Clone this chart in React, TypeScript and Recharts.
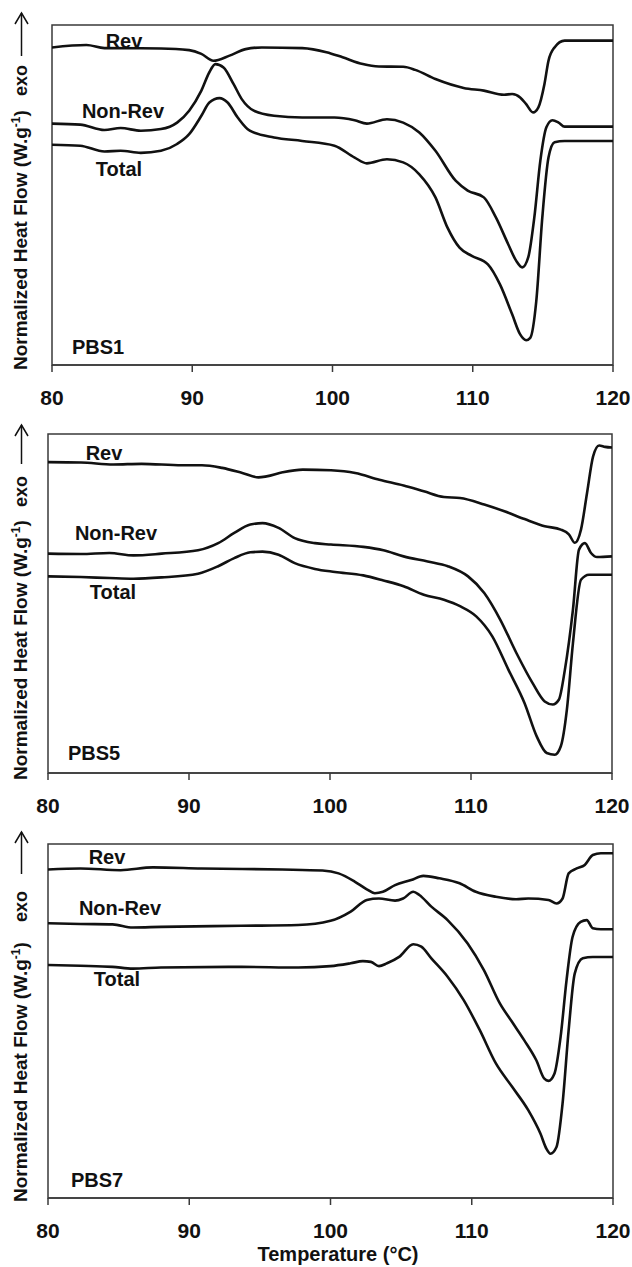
import React from 'react';
import { LineChart, Line, XAxis, YAxis, ReferenceArea } from 'recharts';

// temperature (°C) and normalized heat flow (arbitrary units, 0 = bottom of frame, 100 = top)
const TICKS = [80, 90, 100, 110, 120];

const pbs1RevT = [80, 82.45, 83.74, 87.77, 89.78, 90.65, 91.51, 92.66, 93.81, 94.96, 97.84, 99.57, 100.72, 102.16, 103.31, 105.04, 105.9, 107.34, 109.35, 110.79, 112.23, 112.81, 113.38, 113.81, 114.3, 114.68, 115.11, 115.4, 115.83, 116.55, 120];
const pbs1RevV = [93.4, 94.1, 93.2, 93.1, 92.6, 91.5, 89.5, 91.0, 92.9, 93.4, 93.2, 92.0, 90.5, 88.5, 87.8, 87.7, 86.8, 84.1, 81.5, 80.7, 79.5, 79.7, 78.7, 76.7, 74.3, 75.8, 82.6, 89.5, 93.4, 95.4, 95.4];
const pbs1NonRevT = [80, 82.01, 83.74, 84.89, 86.33, 87.77, 88.92, 89.78, 90.65, 91.22, 91.65, 92.23, 92.95, 93.53, 94.39, 95.83, 97.84, 100.14, 101.58, 102.45, 103.88, 105.04, 106.19, 107.34, 108.78, 109.64, 110.79, 111.65, 112.52, 113.09, 113.53, 113.96, 114.39, 114.82, 115.25, 115.68, 116.12, 116.55, 120];
const pbs1NonRevV = [71.0, 70.7, 69.1, 69.7, 68.9, 69.4, 71.3, 74.8, 80.7, 86.1, 88.5, 87.5, 82.6, 78.2, 74.8, 73.3, 72.8, 72.8, 72.0, 71.0, 72.3, 71.3, 68.4, 63.0, 54.2, 51.3, 49.3, 43.4, 35.6, 30.7, 28.7, 31.7, 43.4, 60.1, 69.9, 72.0, 71.3, 70.1, 70.1];
const pbs1TotalT = [80, 82.01, 83.74, 84.89, 86.33, 87.77, 88.92, 89.78, 90.65, 91.22, 91.94, 92.52, 93.24, 94.1, 95.83, 97.84, 100.14, 101.58, 102.45, 103.88, 105.04, 106.19, 107.34, 108.2, 109.06, 109.93, 111.08, 111.94, 112.81, 113.38, 113.81, 114.1, 114.53, 114.96, 115.4, 115.83, 116.55, 120];
const pbs1TotalV = [64.8, 64.5, 62.8, 63.0, 62.4, 63.0, 65.0, 67.9, 73.3, 77.2, 78.5, 77.2, 72.8, 68.9, 66.9, 65.9, 64.5, 61.0, 59.3, 60.5, 59.6, 56.1, 49.3, 40.4, 34.5, 32.1, 29.6, 23.7, 14.9, 9.0, 7.3, 8.0, 18.8, 43.4, 61.0, 65.5, 65.9, 65.9];

const pbs5RevT = [80, 82.34, 84.63, 86.63, 89.49, 90.92, 92.35, 93.78, 94.93, 95.5, 96.64, 98.07, 100.07, 101.79, 103.5, 105.22, 106.65, 108.08, 109.22, 110.94, 112.37, 113.8, 115.23, 116.37, 116.94, 117.37, 117.8, 118.23, 118.66, 119.09, 119.51, 120];
const pbs5RevV = [91.7, 91.6, 91.0, 91.2, 90.8, 90.8, 90.0, 88.5, 87.2, 87.5, 88.7, 89.5, 89.3, 88.5, 86.5, 84.8, 83.1, 81.4, 81.1, 79.2, 77.2, 74.9, 72.8, 71.8, 70.4, 67.9, 71.8, 82.6, 93.4, 96.6, 96.2, 96.0];
const pbs5NonRevT = [80, 82.34, 84.35, 86.06, 88.06, 90.64, 92.07, 93.21, 94.35, 95.21, 96.35, 97.5, 98.93, 100.07, 102.36, 103.79, 105.22, 106.93, 108.36, 109.79, 110.94, 112.08, 113.22, 114.37, 115.23, 115.8, 116.23, 116.66, 117.23, 117.66, 118.08, 118.51, 118.94, 120];
const pbs5NonRevV = [64.7, 64.6, 64.9, 64.2, 64.7, 65.7, 67.8, 70.8, 73.3, 73.7, 72.3, 69.3, 67.8, 67.4, 66.7, 65.7, 63.9, 62.4, 61.0, 58.0, 53.1, 45.2, 35.4, 26.5, 21.1, 20.2, 21.6, 30.5, 48.2, 65.9, 67.8, 64.9, 63.7, 63.9];
const pbs5TotalT = [80, 82.34, 84.35, 86.06, 88.06, 90.64, 92.07, 93.21, 94.35, 95.21, 96.35, 97.5, 98.93, 100.36, 102.36, 103.79, 105.22, 106.65, 108.08, 109.22, 110.37, 111.51, 112.65, 113.8, 114.66, 115.37, 115.94, 116.37, 116.8, 117.23, 117.8, 118.37, 120];
const pbs5TotalV = [58.0, 57.8, 57.5, 57.3, 57.7, 58.8, 61.0, 63.4, 65.1, 65.3, 64.4, 61.9, 60.2, 59.3, 58.3, 56.8, 55.1, 52.6, 51.1, 49.2, 46.2, 40.3, 30.5, 20.6, 10.8, 5.9, 5.4, 7.9, 18.7, 38.3, 57.0, 58.5, 58.5];

const pbs7RevT = [80, 82.29, 85.14, 87.43, 90.86, 96.57, 99.43, 100.57, 101.71, 102.57, 103.14, 103.71, 104.57, 105.71, 106.57, 107.71, 109.14, 110.29, 111.71, 113.14, 114, 115.43, 116, 116.43, 116.86, 117.43, 118, 118.57, 119.14, 120];
const pbs7RevV = [92.8, 93.1, 92.6, 93.4, 93.1, 92.8, 92.5, 91.7, 89.4, 87.2, 86.1, 86.5, 88.4, 89.8, 91.0, 90.3, 88.9, 86.5, 85.1, 84.4, 84.6, 84.2, 83.2, 84.6, 91.7, 93.1, 94.1, 96.9, 97.4, 97.4];
const pbs7NonRevT = [80, 82.29, 84.57, 86, 88, 93.71, 97.71, 100, 101.43, 102.57, 103.43, 104.57, 105.14, 105.86, 106.29, 107.14, 108.29, 109.71, 110.86, 112, 112.86, 113.71, 114.57, 115.14, 115.43, 115.86, 116.29, 116.71, 117.14, 117.71, 118.14, 118.57, 119.14, 120];
const pbs7NonRevV = [77.6, 77.4, 77.3, 76.4, 76.6, 76.9, 77.1, 78.3, 80.9, 84.2, 84.6, 84.0, 84.6, 86.5, 85.6, 82.3, 78.5, 71.9, 64.4, 54.9, 49.7, 44.6, 38.9, 33.7, 33.1, 35.2, 45.5, 61.5, 73.8, 78.0, 78.5, 76.2, 75.9, 75.9];
const pbs7TotalT = [80, 82.29, 84.57, 86, 88, 93.71, 97.71, 100, 101.43, 102.29, 102.86, 103.43, 104, 104.86, 105.86, 106.43, 107.14, 108.29, 109.43, 110.57, 111.71, 112.86, 114, 114.86, 115.29, 115.57, 116, 116.43, 116.86, 117.29, 117.86, 118.57, 120];
const pbs7TotalV = [65.8, 65.6, 65.3, 64.8, 65.1, 65.3, 65.1, 65.5, 66.3, 66.9, 66.7, 65.5, 66.3, 68.1, 71.7, 71.0, 67.7, 62.5, 55.9, 47.4, 38.0, 31.4, 24.8, 18.2, 13.9, 12.5, 14.4, 26.7, 47.4, 63.4, 67.7, 68.1, 68.1];

const zip = (t: number[], v: number[]) => t.map((x, i) => ({ t: x, v: v[i] }));

const INK = '#111';
const FRAME = '#3a3a3a';
const FONT = '"Liberation Sans", Arial, Helvetica, sans-serif';

type Note = { text: string; x: number; y: number };

type PanelProps = {
  top: number;
  height: number;
  margin: { top: number; right: number; bottom: number; left: number };
  axisHeight: number;
  series: { name: string; data: { t: number; v: number }[] }[];
  notes: Note[];
};

const noteStyle = (x: number, y: number): React.CSSProperties => ({
  position: 'absolute',
  left: x,
  top: y,
  transform: 'translate(-50%, -50%)',
  fontFamily: FONT,
  fontSize: 20,
  fontWeight: 700,
  color: INK,
  whiteSpace: 'nowrap',
  lineHeight: 1,
});

function Panel({ top, height, margin, axisHeight, series, notes }: PanelProps) {
  return (
    <div style={{ position: 'absolute', left: 0, top, width: 632, height }}>
      <LineChart width={632} height={height} margin={margin}>
        <XAxis
          type="number"
          dataKey="t"
          domain={[80, 120]}
          ticks={TICKS}
          interval={0}
          allowDataOverflow
          height={axisHeight}
          stroke={FRAME}
          strokeWidth={1.5}
          tickSize={7}
          tickMargin={18}
          tick={{ fill: INK, fontSize: 21, fontWeight: 700, fontFamily: FONT }}
        />
        <YAxis type="number" domain={[0, 100]} hide />
        <ReferenceArea x1={80} x2={120} y1={0} y2={100} fill="none" stroke={FRAME} strokeWidth={1.5} />
        {series.map((s) => (
          <Line
            key={s.name}
            name={s.name}
            data={s.data}
            dataKey="v"
            type="monotone"
            stroke={INK}
            strokeWidth={2.6}
            dot={false}
            activeDot={false}
            isAnimationActive={false}
          />
        ))}
      </LineChart>
      {notes.map((n) => (
        <div key={n.text} style={noteStyle(n.x, n.y - top)}>
          {n.text}
        </div>
      ))}
    </div>
  );
}

// rotated y title with the "exo" arrow, positions in page pixels
const Y_TITLES = [
  { textStart: 370, exoStart: 96, tail: 56, head: 13 },
  { textStart: 780, exoStart: 507, tail: 464, head: 425 },
  { textStart: 1202, exoStart: 922, tail: 874, head: 832 },
];

function YTitles() {
  return (
    <svg width={44} height={1267} style={{ position: 'absolute', left: 0, top: 0 }}>
      {Y_TITLES.map((y, i) => (
        <g key={i} fill={INK} fontFamily={FONT} fontWeight={700}>
          <text transform={`translate(27, ${y.textStart}) rotate(-90)`} fontSize={19}>
            Normalized Heat Flow (W.g
            <tspan fontSize={12} dy={-7}>-1</tspan>
            <tspan dy={7}>)</tspan>
          </text>
          <text transform={`translate(27, ${y.exoStart}) rotate(-90)`} fontSize={18}>
            exo
          </text>
          <line x1={21.5} y1={y.tail} x2={21.5} y2={y.head} stroke={INK} strokeWidth={1.5} />
          <polyline
            points={`15,${y.head + 11} 21.5,${y.head} 28,${y.head + 11}`}
            fill="none"
            stroke={INK}
            strokeWidth={1.5}
          />
        </g>
      ))}
    </svg>
  );
}

export default function App() {
  return (
    <div style={{ position: 'absolute', left: 0, top: 0, width: 632, height: 1267, background: '#fff', overflow: 'hidden' }}>
      <Panel
        top={0}
        height={410}
        margin={{ top: 25, right: 19, bottom: 0, left: 52 }}
        axisHeight={45}
        series={[
          { name: 'Rev', data: zip(pbs1RevT, pbs1RevV) },
          { name: 'Non-Rev', data: zip(pbs1NonRevT, pbs1NonRevV) },
          { name: 'Total', data: zip(pbs1TotalT, pbs1TotalV) },
        ]}
        notes={[
          { text: 'Rev', x: 124, y: 41 },
          { text: 'Non-Rev', x: 123, y: 111 },
          { text: 'Total', x: 119, y: 169 },
          { text: 'PBS1', x: 98, y: 347 },
        ]}
      />
      <Panel
        top={410}
        height={420}
        margin={{ top: 24, right: 20, bottom: 12, left: 48 }}
        axisHeight={45}
        series={[
          { name: 'Rev', data: zip(pbs5RevT, pbs5RevV) },
          { name: 'Non-Rev', data: zip(pbs5NonRevT, pbs5NonRevV) },
          { name: 'Total', data: zip(pbs5TotalT, pbs5TotalV) },
        ]}
        notes={[
          { text: 'Rev', x: 104, y: 453 },
          { text: 'Non-Rev', x: 116, y: 533 },
          { text: 'Total', x: 113, y: 592 },
          { text: 'PBS5', x: 94, y: 753 },
        ]}
      />
      <Panel
        top={830}
        height={437}
        margin={{ top: 14, right: 19, bottom: 0, left: 48 }}
        axisHeight={69}
        series={[
          { name: 'Rev', data: zip(pbs7RevT, pbs7RevV) },
          { name: 'Non-Rev', data: zip(pbs7NonRevT, pbs7NonRevV) },
          { name: 'Total', data: zip(pbs7TotalT, pbs7TotalV) },
        ]}
        notes={[
          { text: 'Rev', x: 107, y: 857 },
          { text: 'Non-Rev', x: 120, y: 908 },
          { text: 'Total', x: 117, y: 979 },
          { text: 'PBS7', x: 97, y: 1180 },
          { text: 'Temperature (°C)', x: 338, y: 1254 },
        ]}
      />
      <YTitles />
    </div>
  );
}
